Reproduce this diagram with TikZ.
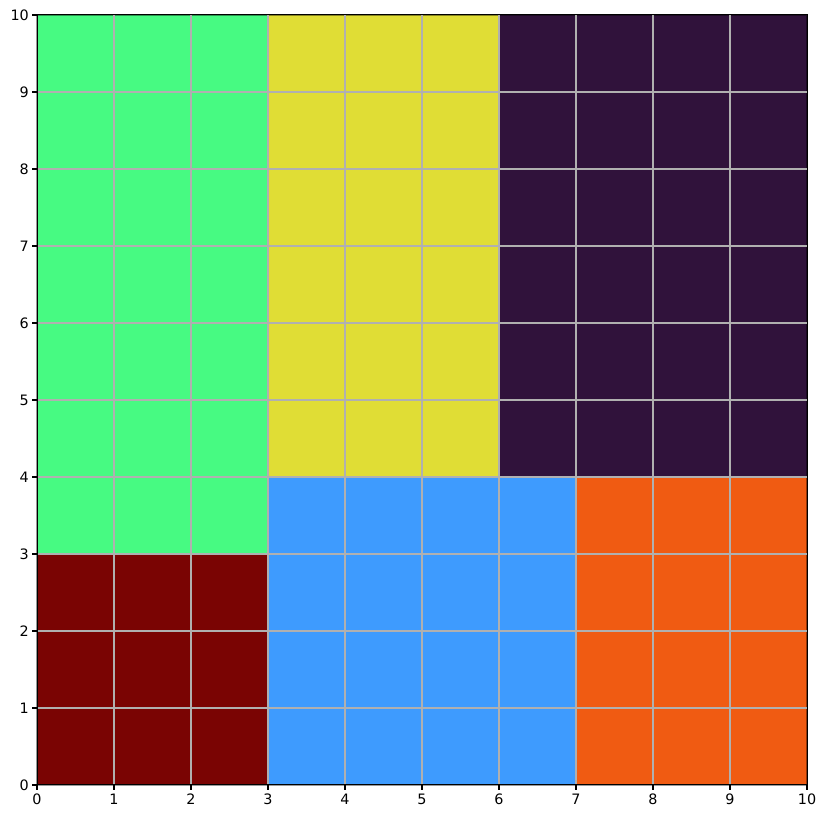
\documentclass[tikz,border=0pt]{standalone}
\usepackage{fontspec}
\setmainfont{DejaVu Sans}
\usepackage{xcolor}
\usepackage{tikz}
\usetikzlibrary{positioning}

\definecolor{cgreen}{HTML}{47FA82}
\definecolor{cyellow}{HTML}{E0DD35}
\definecolor{cpurple}{HTML}{30123B}
\definecolor{cred}{HTML}{7A0403}
\definecolor{cblue}{HTML}{3E9BFE}
\definecolor{corange}{HTML}{F05B12}
\definecolor{gridgray}{HTML}{B0B0B0}

\begin{document}
\begin{tikzpicture}[
  cell/.style={line width=0.5pt, draw=black, draw opacity=0.4},
  gridln/.style={draw=gridgray, line width=0.42pt},
  spine/.style={draw=black, line width=0.45pt},
  tick/.style={draw=black, line width=0.45pt},
  ticklbl/.style={font=\fontsize{5.3}{6}\selectfont, inner sep=0pt}
]
  \useasboundingbox (-0.4805,-0.4416) rectangle (10.2468,10.195);

  % Regions
  \filldraw[cell, fill=cgreen] (0,3) rectangle (3,10);
  \filldraw[cell, fill=cyellow] (3,4) rectangle (6,10);
  \filldraw[cell, fill=cpurple] (6,4) rectangle (10,10);
  \filldraw[cell, fill=cred] (0,0) rectangle (3,3);
  \filldraw[cell, fill=cblue] (3,0) rectangle (7,4);
  \filldraw[cell, fill=corange] (7,0) rectangle (10,4);

  % Grid
  \foreach \i in {1,...,9} {
    \draw[gridln] (\i,0) -- (\i,10);
    \draw[gridln] (0,\i) -- (10,\i);
  }

  % Axes and ticks
  \node[spine, draw, inner sep=0pt, minimum width=10cm, minimum height=10cm, anchor=south west] (axes) at (0,0) {};
  \foreach \i in {0,...,10} {
    \draw[tick] (\i,0) -- (\i,-0.063);
    \node[ticklbl, anchor=north] (xl\i) at (\i,-0.11) {\i};
    \draw[tick] (0,\i) -- (-0.063,\i);
    \node[ticklbl, anchor=east] (yl\i) at (-0.1,\i) {\i};
  }
\end{tikzpicture}
\end{document}
